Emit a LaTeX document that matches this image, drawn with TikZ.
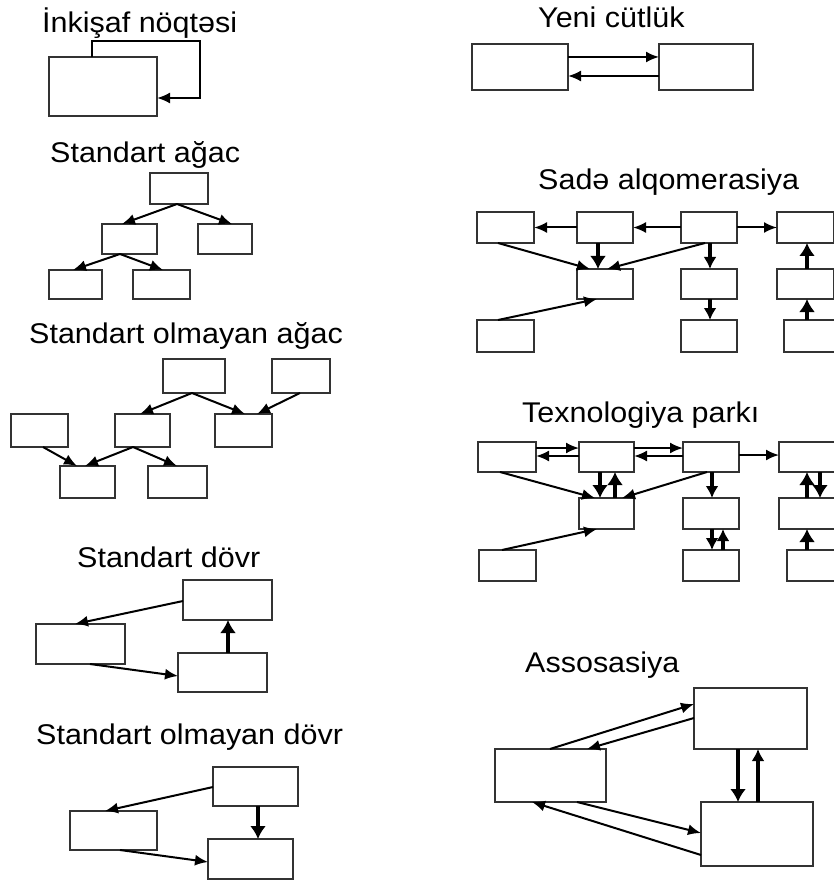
\documentclass[tikz,border=0pt]{standalone}
\usepackage{fontspec}
\setmainfont{Liberation Sans}
\usetikzlibrary{arrows.meta,calc}
\tikzset{
  bx/.style={draw=black!80, line width=1.9pt, rectangle, inner sep=0pt, outer sep=0pt, fill=white},
  ar/.style={line width=2pt, -{Latex[length=13pt,width=11pt]}},
  mar/.style={line width=3.2pt, -{Latex[length=12pt,width=13pt]}},
  tar/.style={line width=4.6pt, -{Latex[length=13pt,width=16pt]}},
  ttl/.style={anchor=base west, inner sep=0pt, font=\fontsize{28.5}{30}\selectfont},
}
\newcommand\bxx[5]{\node[bx,minimum width={(#4-#2)*1pt},minimum height={(#5-#3)*1pt}] (#1) at ({(#2+#4)/2},{(#3+#5)/2}) {};}
\newcommand\ttext[1]{\scalebox{1.07}[1]{#1}}
\begin{document}
\begin{tikzpicture}[x=1pt,y=-1pt]
\useasboundingbox (0,0) rectangle (833,882);
% ---------- titles ----------
\node[ttl] (h1) at (42,33) {\ttext{İnkişaf nöqtəsi}};
\node[ttl] (h2) at (50,163) {\ttext{Standart ağac}};
\node[ttl] (h3) at (29,343) {\ttext{Standart olmayan ağac}};
\node[ttl] (h4) at (77,567) {\ttext{Standart dövr}};
\node[ttl] (h5) at (36,744) {\ttext{Standart olmayan dövr}};
\node[ttl] (h6) at (538,28) {\ttext{Yeni cütlük}};
\node[ttl] (h7) at (538,190) {\ttext{Sadə alqomerasiya}};
\node[ttl] (h8) at (522,422) {\ttext{Texnologiya parkı}};
\node[ttl] (h9) at (525,672) {\ttext{Assosasiya}};
% ---------- 1: development point ----------
\bxx{P}{49}{57}{157}{116}
\draw[ar] ($(P.north)+(-11,0)$) -- ++(0,-16) -| ($(P.east)+(43,11.5)$) -- ($(P.east)+(0,11.5)$);
% ---------- 2: standard tree ----------
\bxx{ta}{150}{173}{208}{204}
\bxx{tb}{102}{224}{157}{254}
\bxx{tc}{198}{224}{252}{254}
\bxx{td}{49}{270}{102}{299}
\bxx{te}{133}{270}{190}{299}
\draw[ar] ($(ta.south)+(-2,0)$) -- ($(tb.north)+(-7.5,0)$);
\draw[ar] ($(ta.south)+(-2,0)$) -- ($(tc.north)+(7,0)$);
\draw[ar] ($(tb.south)+(-9.5,0)$) -- ($(td.north)+(-2.5,0)$);
\draw[ar] ($(tb.south)+(-9.5,0)$) -- ($(te.north)+(1.5,0)$);
% ---------- 3: non-standard tree ----------
\bxx{nA}{163}{359}{225}{393}
\bxx{nB}{272}{359}{330}{393}
\bxx{nC}{11}{414}{68}{447}
\bxx{nD}{115}{414}{170}{447}
\bxx{nE}{215}{414}{272}{447}
\bxx{nF}{60}{466}{115}{498}
\bxx{nG}{148}{466}{207}{498}
\draw[ar] ($(nA.south)+(-2,0)$) -- ($(nD.north)+(-2.5,0)$);
\draw[ar] ($(nA.south)+(-2,0)$) -- ($(nE.north)+(1.5,0)$);
\draw[ar] ($(nB.south)+(-1,0)$) -- ($(nE.north)+(13.5,0)$);
\draw[ar] ($(nC.south)+(3.5,0)$) -- ($(nF.north)+(-10.5,0)$);
\draw[ar] ($(nD.south)+(-9.5,0)$) -- ($(nF.north)+(-2.5,0)$);
\draw[ar] ($(nD.south)+(-9.5,0)$) -- ($(nG.north)+(-0.5,0)$);
% ---------- 4: standard cycle ----------
\bxx{cU}{183}{580}{272}{620}
\bxx{cL}{36}{624}{125}{664}
\bxx{cR}{178}{653}{267}{692}
\draw[ar] ($(cU.west)+(0,1)$) -- ($(cL.north)+(-5.5,0)$);
\draw[ar] ($(cL.south)+(9.5,0)$) -- ($(cR.west)+(0,3.5)$);
\draw[tar] ($(cR.north)+(5.5,0)$) -- ($(cU.south)+(0.5,0)$);
% ---------- 5: non-standard cycle ----------
\bxx{dU}{213}{767}{298}{806}
\bxx{dL}{70}{811}{157}{850}
\bxx{dR}{208}{839}{293}{879}
\draw[ar] ($(dU.west)+(0,0.5)$) -- ($(dL.north)+(-8.5,0)$);
\draw[ar] ($(dL.south)+(6.5,0)$) -- ($(dR.west)+(0,3)$);
\draw[tar] ($(dU.south)+(2.5,0)$) -- ($(dR.north)+(7.5,0)$);
% ---------- 6: new pair ----------
\bxx{y1}{472}{44}{568}{90}
\bxx{y2}{659}{44}{753}{90}
\draw[ar] ($(y1.east)+(0,-10)$) -- ($(y2.west)+(0,-10)$);
\draw[ar] ($(y2.west)+(0,9)$) -- ($(y1.east)+(0,9)$);
% ---------- 7: simple agglomeration ----------
\bxx{s1a}{477}{212}{534}{243}
\bxx{s1b}{577}{212}{633}{243}
\bxx{s1c}{681}{212}{737}{243}
\bxx{s1d}{777}{212}{834}{243}
\bxx{s2b}{577}{269}{633}{299}
\bxx{s2c}{681}{269}{737}{299}
\bxx{s2d}{777}{269}{834}{299}
\bxx{s3a}{477}{320}{534}{352}
\bxx{s3c}{681}{320}{737}{352}
\bxx{s3d}{784}{320}{841}{352}
\draw[ar] (s1b.west) -- (s1a.east);
\draw[ar] (s1c.west) -- (s1b.east);
\draw[ar] (s1c.east) -- (s1d.west);
\draw[ar] ($(s1a.south)+(-7.5,0)$) -- ($(s2b.north)+(-15,0)$);
\draw[tar] ($(s1b.south)+(-7,0)$) -- ($(s2b.north)+(-7,0)$);
\draw[ar] ($(s1c.south)+(-4,0)$) -- ($(s2b.north)+(2,0)$);
\draw[mar] ($(s1c.south)+(1,0)$) -- ($(s2c.north)+(1,0)$);
\draw[mar] ($(s2c.south)+(1,0)$) -- ($(s3c.north)+(1,0)$);
\draw[tar] ($(s2d.north)+(1.5,0)$) -- ($(s1d.south)+(1.5,0)$);
\draw[tar] ($(s3d.north)+(-5.5,0)$) -- ($(s2d.south)+(1.5,0)$);
\draw[ar] ($(s3a.north)+(-7.5,0)$) -- ($(s2b.south)+(-8,0)$);
% ---------- 8: technology park ----------
\bxx{k1a}{478}{442}{536}{472}
\bxx{k1b}{579}{442}{634}{472}
\bxx{k1c}{683}{442}{739}{472}
\bxx{k1d}{779}{442}{836}{472}
\bxx{k2b}{579}{498}{634}{529}
\bxx{k2c}{683}{498}{739}{529}
\bxx{k2d}{779}{498}{836}{529}
\bxx{k3a}{479}{550}{536}{581}
\bxx{k3c}{683}{550}{739}{581}
\bxx{k3d}{787}{550}{844}{581}
\draw[ar] ($(k1a.east)+(0,-9)$) -- ($(k1b.west)+(0,-9)$);
\draw[ar] ($(k1b.west)+(0,-1)$) -- ($(k1a.east)+(0,-1)$);
\draw[ar] ($(k1b.east)+(0,-9)$) -- ($(k1c.west)+(0,-9)$);
\draw[ar] ($(k1c.west)+(0,-1)$) -- ($(k1b.east)+(0,-1)$);
\draw[ar] ($(k1c.east)+(0,-2)$) -- ($(k1d.west)+(0,-2)$);
\draw[ar] ($(k1a.south)+(-7,0)$) -- ($(k2b.north)+(-11.5,0)$);
\draw[tar] ($(k1b.south)+(-6.5,0)$) -- ($(k2b.north)+(-6.5,0)$);
\draw[tar] ($(k2b.north)+(8.5,0)$) -- ($(k1b.south)+(8.5,0)$);
\draw[ar] ($(k1c.south)+(-4,0)$) -- ($(k2b.north)+(15.5,0)$);
\draw[mar] ($(k1c.south)+(1,0)$) -- ($(k2c.north)+(1,0)$);
\draw[mar] ($(k2c.south)+(1,0)$) -- ($(k3c.north)+(1,0)$);
\draw[mar] ($(k3c.north)+(12,0)$) -- ($(k2c.south)+(12,0)$);
\draw[tar] ($(k2d.north)+(-0.5,0)$) -- ($(k1d.south)+(-0.5,0)$);
\draw[tar] ($(k1d.south)+(12.5,0)$) -- ($(k2d.north)+(12.5,0)$);
\draw[tar] ($(k3d.north)+(-8.5,0)$) -- ($(k2d.south)+(-0.5,0)$);
\draw[ar] ($(k3a.north)+(-5.5,0)$) -- ($(k2b.south)+(-9.5,0)$);
% ---------- 9: association ----------
\bxx{aT}{694}{688}{807}{749}
\bxx{aL}{495}{749}{606}{802}
\bxx{aB}{701}{802}{813}{866}
\draw[ar] ($(aL.north)+(-0.5,0)$) -- ($(aT.west)+(0,-14.5)$);
\draw[ar] ($(aT.west)+(0,-0.5)$) -- ($(aL.north)+(36.5,0)$);
\draw[tar] ($(aT.south)+(-12.5,0)$) -- ($(aB.north)+(-19,0)$);
\draw[mar] ($(aB.north)+(1,0)$) -- ($(aT.south)+(7.5,0)$);
\draw[ar] ($(aL.south)+(26.5,0)$) -- ($(aB.west)+(0,-1)$);
\draw[ar] ($(aB.west)+(0,21)$) -- ($(aL.south)+(-18.5,0)$);
\end{tikzpicture}
\end{document}
